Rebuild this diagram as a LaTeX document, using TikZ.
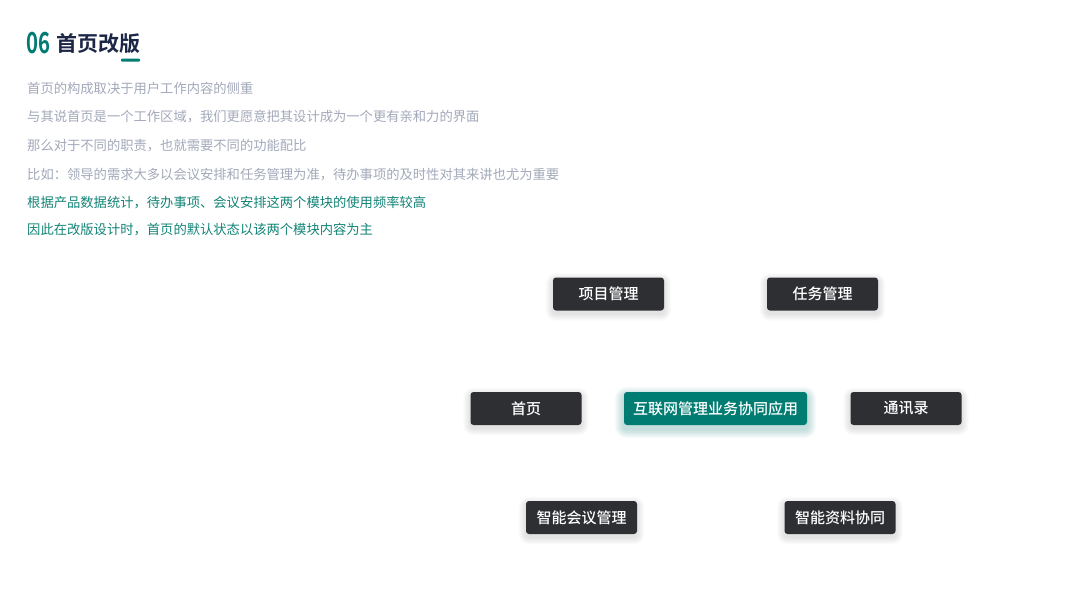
\documentclass[tikz,border=0pt]{standalone}
\usepackage{fontspec}
\setmainfont{Noto Sans CJK SC}
\newfontfamily\cjkbold{Noto Sans CJK SC Bold}
\newfontfamily\cjkmed{Noto Sans CJK SC Medium}
\usetikzlibrary{backgrounds}
\definecolor{teal0}{HTML}{007C72}
\definecolor{darkbox}{HTML}{2E2F33}
\definecolor{navy}{HTML}{1C2747}
\definecolor{graytxt}{HTML}{A3A9BA}
\definecolor{tealtxt}{HTML}{138477}
\tikzset{
  modbox/.style={fill=darkbox, rounded corners=3pt, minimum width=111pt, minimum height=33pt,
    text=white, font=\cjkmed\fontsize{15}{15}\selectfont, inner sep=0pt},
  corebox/.style={fill=teal0, rounded corners=3pt, minimum width=183pt, minimum height=33pt,
    text=white, font=\cjkmed\fontsize{15}{15}\selectfont, inner sep=0pt},
  grayline/.style={anchor=west, inner sep=0pt, text=graytxt, font=\fontsize{13.3}{13.3}\selectfont},
  tealline/.style={anchor=west, inner sep=0pt, text=tealtxt, font=\fontsize{13.3}{13.3}\selectfont}
}
\begin{document}
\begin{tikzpicture}[x=1pt,y=-1pt]
\useasboundingbox (0,0) rectangle (1067,600);
% title
\node[anchor=west, inner sep=0pt, text=teal0, font=\cjkbold\fontsize{29}{29}\selectfont, xscale=0.7] (num) at (26,43.5) {06};
\node[anchor=west, inner sep=0pt, text=navy, font=\cjkbold\fontsize{21}{21}\selectfont] (title) at (56,44) {首页改版};
\fill[teal0, rounded corners=1pt] (121,58.5) rectangle (140,61.5);
% text lines
\node[grayline] (l1) at (27,88) {首页的构成取决于用户工作内容的侧重};
\node[grayline] (l2) at (27,117) {与其说首页是一个工作区域，我们更愿意把其设计成为一个更有亲和力的界面};
\node[grayline] (l3) at (27,146) {那么对于不同的职责，也就需要不同的功能配比};
\node[grayline] (l4) at (27,174.5) {比如：领导的需求大多以会议安排和任务管理为准，待办事项的及时性对其来讲也尤为重要};
\node[tealline] (l5) at (27,203) {根据产品数据统计，待办事项、会议安排这两个模块的使用频率较高};
\node[tealline] (l6) at (27,229.5) {因此在改版设计时，首页的默认状态以该两个模块内容为主};
% diagram boxes
\node[modbox] (xm) at (608.5,294) {项目管理};
\node[modbox] (rw) at (822.5,294) {任务管理};
\node[modbox] (sy) at (526,408.5) {首页};
\node[corebox] (core) at (715.5,408.5) {互联网管理业务协同应用};
\node[modbox] (tx) at (906,408.5) {通讯录};
\node[modbox] (hy) at (581.5,517.5) {智能会议管理};
\node[modbox] (zl) at (840,517.5) {智能资料协同};
% background and soft shadows
\begin{scope}[on background layer]
\fill[white] (0,0) rectangle (1067,600);
\foreach \n in {xm,rw,sy,tx,hy,zl}{
  \foreach \k in {1,2,...,7}{
    \fill[black, opacity=0.017, rounded corners=3pt+\k pt]
      ([xshift=-\k pt, yshift=-3pt+\k pt]\n.north west) rectangle ([xshift=\k pt, yshift=-3pt-\k pt]\n.south east);
  }
}
\foreach \k in {1,2,...,9}{
  \fill[teal0, opacity=0.028, rounded corners=3pt+\k pt]
    ([xshift=-\k pt, yshift=-4pt+\k pt]core.north west) rectangle ([xshift=\k pt, yshift=-4pt-\k pt]core.south east);
}
\end{scope}
\end{tikzpicture}
\end{document}
